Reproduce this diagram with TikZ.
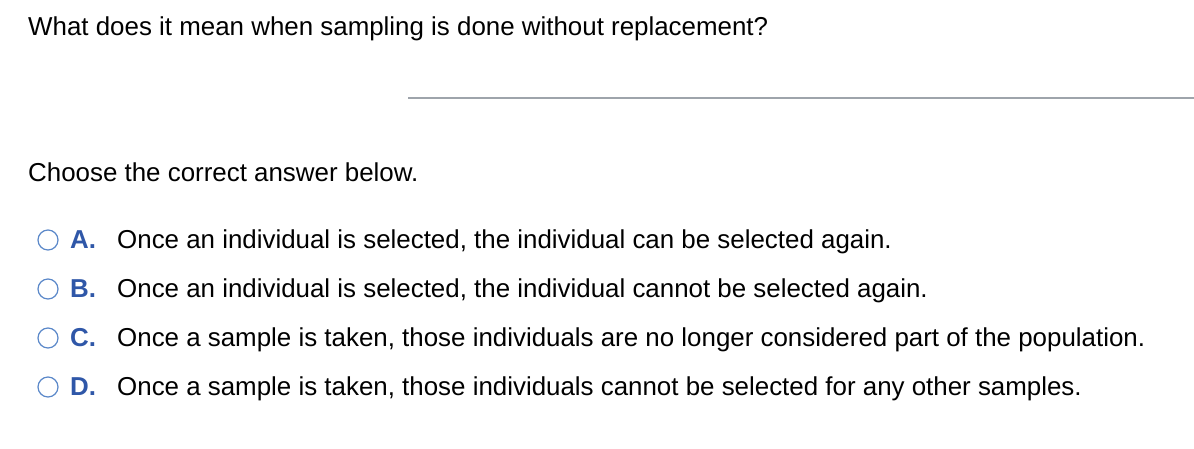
\documentclass[tikz,border=0pt]{standalone}
\usepackage{fontspec}
\setmainfont{Liberation Sans}
\definecolor{lbl}{HTML}{2F57A8}
\definecolor{circ}{HTML}{5B88C9}
\definecolor{rule}{HTML}{9EA4AB}
\begin{document}
\begin{tikzpicture}[x=1pt,y=-1pt,
  txt/.style={anchor=base west,inner sep=0pt,font=\fontsize{25.9}{30}\selectfont},
  lab/.style={txt,text=lbl,font=\fontsize{25.9}{30}\selectfont\bfseries},
  radio/.style={draw=circ,line width=1.2pt,circle,minimum size=20pt,inner sep=0pt}]
\useasboundingbox (0,0) rectangle (1194,448);
\node[txt] (q) at (28,35) {What does it mean when sampling is done without replacement?};
\coordinate (l1) at (408,98); \coordinate (l2) at (1194,98);
\draw[rule,line width=1.5pt] (l1) -- (l2);
\node[txt] (ch) at (28,181) {Choose the correct answer below.};
\foreach \n/\y/\l/\t in {a/248/A./{Once an individual is selected, the individual can be selected again.},
  b/297/B./{Once an individual is selected, the individual cannot be selected again.},
  c/346/C./{Once a sample is taken, those individuals are no longer considered part of the population.},
  d/395/D./{Once a sample is taken, those individuals cannot be selected for any other samples.}}{
  \node[radio] (r\n) at (48,\y-8) {};
  \node[lab] (l\n) at (70,\y) {\l};
  \node[txt] (t\n) at (117,\y) {\t};
}
\end{tikzpicture}
\end{document}
